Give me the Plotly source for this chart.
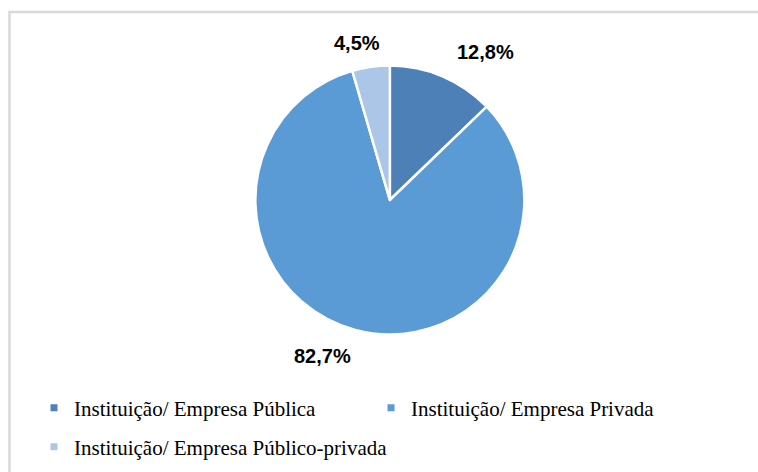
import plotly.graph_objects as go

categories = ["Instituição/ Empresa Pública", "Instituição/ Empresa Privada", "Instituição/ Empresa Público-privada"]
values = [12.8, 82.7, 4.5]
colors = ["#4D80B6", "#5B9BD5", "#ABC6E6"]
label_text = [f"{v:.1f}%".replace(".", ",") for v in values]

W, H = 758, 472
def px(x):
    return x / W
def py(y):
    return 1 - y / H

fig = go.Figure()
fig.add_trace(go.Pie(
    labels=categories, values=values, sort=False, direction="clockwise", rotation=0,
    marker=dict(colors=colors, line=dict(color="white", width=2.5)),
    textinfo="none", hoverinfo="label+percent", showlegend=False,
    domain=dict(x=[px(255.2), px(524.5)], y=[py(334.5), py(65.5)]),
))

legend_names = ["legend", "legend2", "legend3"]
for name, cat, col in zip(legend_names, categories, colors):
    fig.add_trace(go.Scatter(
        x=[None], y=[None], mode="markers", name=cat, legend=name,
        marker=dict(symbol="square", size=7, color=col),
        showlegend=True,
    ))

leg_font = dict(family="Liberation Serif", size=21, color="black")
leg_pos = [(34, 408), (371, 408), (34, 447)]
for name, (lx, ly) in zip(legend_names, leg_pos):
    fig.layout[name] = dict(x=px(lx), y=py(ly), xanchor="left", yanchor="middle",
                            font=leg_font, bgcolor="rgba(0,0,0,0)", borderwidth=0,
                            orientation="h")

label_pos = [(485, 52), (322, 356), (357, 43)]
for txt, (lx, ly) in zip(label_text, label_pos):
    fig.add_annotation(x=px(lx), y=py(ly), xref="paper", yref="paper", text=f"<b>{txt}</b>",
                       showarrow=False, xanchor="center", yanchor="middle",
                       font=dict(family="Liberation Sans", size=20, color="black"))

fig.add_shape(type="path", xref="paper", yref="paper",
              path=f"M {px(9.5)},0 L {px(9.5)},{py(12)} L 1,{py(12)}",
              line=dict(color="#D9D9D9", width=2.5))

fig.update_layout(
    width=W, height=H, margin=dict(l=0, r=0, t=0, b=0),
    paper_bgcolor="white", plot_bgcolor="white",
    xaxis=dict(visible=False), yaxis=dict(visible=False),
)
fig.write_html("out.html", config={"displayModeBar": False},
               post_script="document.body.style.margin='0';document.body.style.overflow='hidden';")
